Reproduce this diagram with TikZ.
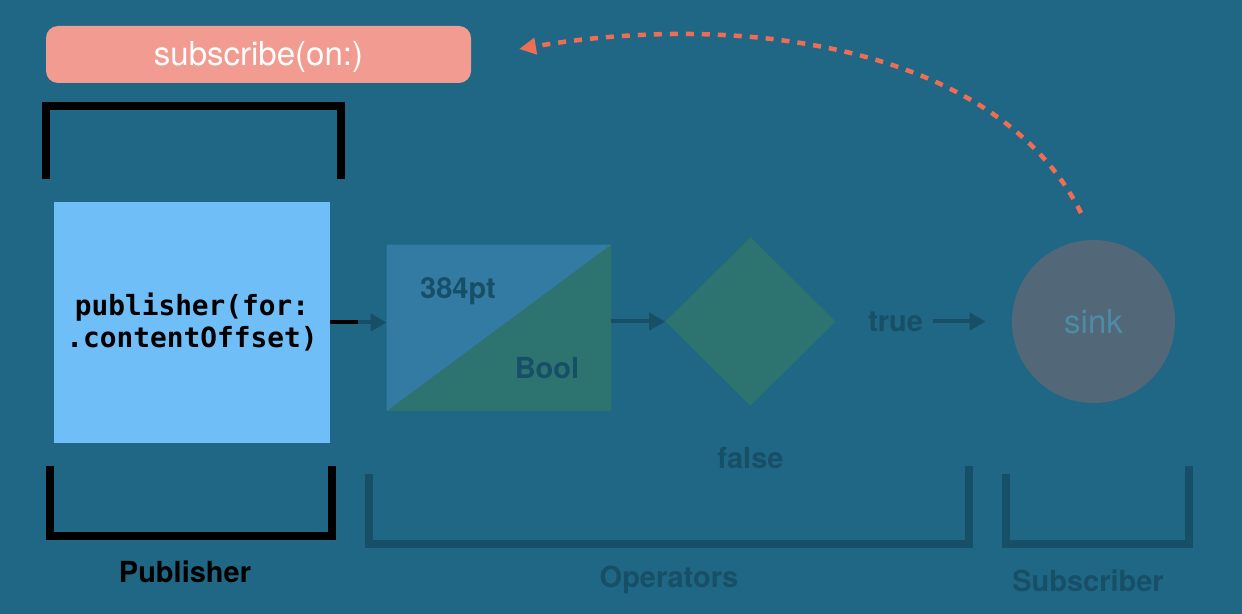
\documentclass[tikz,border=0pt]{standalone}
\usepackage{fontspec}
\setmainfont{TeX Gyre Heros}
\setmonofont{DejaVu Sans Mono}
\usetikzlibrary{positioning, arrows.meta, shapes.geometric}
\definecolor{bgblue}{HTML}{1F6784}
\definecolor{pubblue}{HTML}{6FBEF7}
\definecolor{subpink}{HTML}{F29B90}
\definecolor{suborange}{HTML}{EE6D55}
\definecolor{mapblue}{HTML}{347BA3}
\definecolor{mapgreen}{HTML}{2D7470}
\definecolor{darkline}{HTML}{174F67}
\definecolor{sinkgray}{HTML}{526878}
\definecolor{sinktext}{HTML}{4D8BA6}
\tikzset{
	pubbox/.style={rectangle, fill=pubblue, minimum width=138pt, minimum height=120.5pt,
		align=center, inner sep=0pt,
		font=\ttfamily\bfseries\fontsize{13.9pt}{16pt}\selectfont},
	subbox/.style={rectangle, rounded corners=6pt, fill=subpink, text=white,
		minimum width=212.5pt, minimum height=28.5pt, text depth=1.5pt,
		font=\fontsize{16.5pt}{20pt}\selectfont},
	flowarr/.style={-{Triangle[length=8pt, width=8.5pt]}, line width=2pt, draw=darkline},
	subarr/.style={-{Triangle[length=8.5pt, width=8pt]}, line width=2.25pt,
		draw=suborange, dash pattern=on 4pt off 4pt},
	bracket/.style={line width=4pt},
	dimlabel/.style={text=darkline, inner sep=0pt, font=\bfseries\fontsize{14.5pt}{17pt}\selectfont}
}

\begin{document}
\begin{tikzpicture}[x=0.5pt, y=-0.5pt, node distance=16pt]
	\fill[bgblue] (0,0) rectangle (1242,614);
	\useasboundingbox (0,0) rectangle (1242,614);

	% publisher side
	\node[subbox] (subon) at (258.5,54.5) {subscribe(on:)};
	\node[pubbox] (pub) at (192,322.5) {publisher(for:\\.contentOffset)};
	\draw[bracket, black] (45.5,179) -- (45.5,106) -- (341,106) -- (341,179);
	\draw[bracket, black] (50,466) -- (50,536) -- (332,536) -- (332,466);
	\node[dimlabel, text=black, anchor=base] (publbl) at (185,582) {Publisher};

	% operators
	\node[minimum width=112pt, minimum height=83pt, inner sep=0pt] (conv) at (499,328) {};
	\fill[mapblue] (conv.north west) -- (conv.north east) -- (conv.south west) -- cycle;
	\fill[mapgreen] (conv.north east) -- (conv.south east) -- (conv.south west) -- cycle;
	\node[dimlabel, anchor=base] (ptlbl) at (458,299) {384pt};
	\node[dimlabel, anchor=base] (boollbl) at (547,379) {Bool};
	\node[diamond, fill=mapgreen, minimum width=85pt, minimum height=84.5pt, inner sep=0pt]
		(dec) at (750.5,321.5) {};
	\node[dimlabel, right=of dec] (truelbl) {true};
	\node[dimlabel, below=20.5pt of dec] (falselbl) {false};
	\draw[bracket, darkline] (369,474) -- (369,544) -- (969,544) -- (969,466);
	\node[dimlabel, anchor=base] (oplbl) at (669,587) {Operators};

	% subscriber
	\node[circle, fill=sinkgray, text=sinktext, minimum size=81.5pt, inner sep=0pt,
		font=\fontsize{16.5pt}{19pt}\selectfont] (sink) at (1093.5,321.5) {sink};
	\draw[bracket, darkline] (1006,474) -- (1006,544) -- (1189,544) -- (1189,466);
	\node[dimlabel, anchor=base] (sublbl) at (1088,591) {Subscriber};

	% connectors
	\coordinate (pubout) at ([xshift=14pt]pub.east);
	\draw[flowarr] (pub.east) -- (pub.east -| conv.west);
	\draw[line width=2pt, black] (pub.east) -- (pubout);
	\draw[flowarr] (conv.east |- dec) -- (dec);
	\draw[flowarr, shorten <=5pt, shorten >=13pt] (truelbl) -- (sink);

	\coordinate (sinkup) at (1081,213);
	\coordinate (subtip) at (519,49);
	\draw[subarr] (sinkup) .. controls (1000,50) and (750,10) .. (subtip);
\end{tikzpicture}
\end{document}
